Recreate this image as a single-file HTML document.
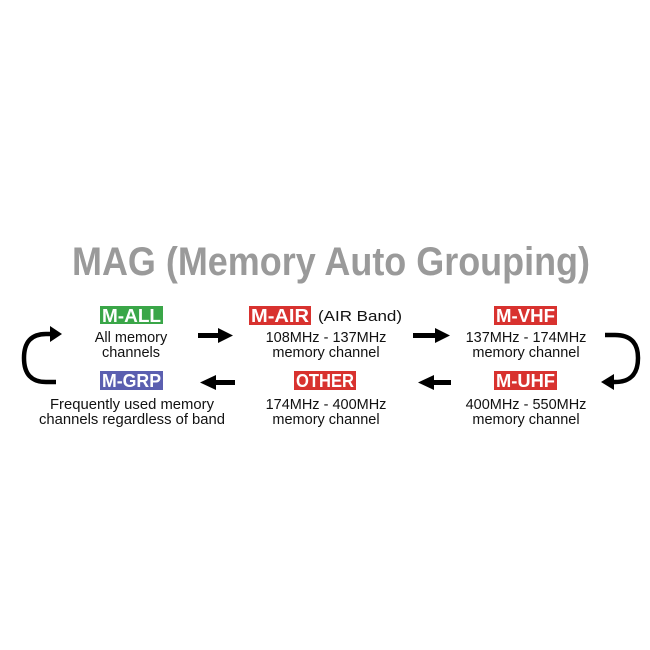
<!DOCTYPE html>
<html><head><meta charset="utf-8"><style>
body{margin:0;background:#fff;}
svg{display:block;}
.t{font-family:"Liberation Sans",sans-serif;font-size:14.5px;fill:#111;text-anchor:middle;}
.b{font-family:"Liberation Sans",sans-serif;font-size:18px;font-weight:bold;fill:#fff;text-anchor:middle;}
</style></head><body>
<svg width="650" height="650" viewBox="0 0 650 650">
<text x="331" y="275" font-family="Liberation Sans,sans-serif" font-size="40" font-weight="bold" fill="#9a9a9a" text-anchor="middle" textLength="518" lengthAdjust="spacingAndGlyphs">MAG (Memory Auto Grouping)</text>

<rect x="100" y="306" width="63" height="18" fill="#3aa648"/><text class="b" x="131.5" y="322" textLength="59" lengthAdjust="spacingAndGlyphs">M-ALL</text>
<rect x="249" y="306" width="62" height="19" fill="#d8322f"/><text class="b" x="280" y="322" textLength="58" lengthAdjust="spacingAndGlyphs">M-AIR</text>
<text class="t" x="360" y="321" font-size="15.5" textLength="84" lengthAdjust="spacingAndGlyphs">(AIR Band)</text>
<rect x="494" y="306" width="63" height="19" fill="#d8322f"/><text class="b" x="525.5" y="322" textLength="59" lengthAdjust="spacingAndGlyphs">M-VHF</text>
<rect x="100" y="371" width="63" height="19" fill="#5b5fb0"/><text class="b" x="131.5" y="387" textLength="59" lengthAdjust="spacingAndGlyphs">M-GRP</text>
<rect x="294" y="371" width="62" height="19" fill="#d8322f"/><text class="b" x="325" y="387" textLength="58" lengthAdjust="spacingAndGlyphs">OTHER</text>
<rect x="494" y="371" width="63" height="19" fill="#d8322f"/><text class="b" x="525.5" y="387" textLength="59" lengthAdjust="spacingAndGlyphs">M-UHF</text>

<text class="t" x="131" y="342">All memory</text>
<text class="t" x="131" y="357">channels</text>
<text class="t" x="326" y="342">108MHz - 137MHz</text>
<text class="t" x="326" y="357">memory channel</text>
<text class="t" x="526" y="342">137MHz - 174MHz</text>
<text class="t" x="526" y="357">memory channel</text>
<text class="t" x="132" y="409" textLength="164" lengthAdjust="spacingAndGlyphs">Frequently used memory</text>
<text class="t" x="132" y="424" textLength="186" lengthAdjust="spacingAndGlyphs">channels regardless of band</text>
<text class="t" x="326" y="409">174MHz - 400MHz</text>
<text class="t" x="326" y="424">memory channel</text>
<text class="t" x="526" y="409">400MHz - 550MHz</text>
<text class="t" x="526" y="424">memory channel</text>

<g fill="#000">
<rect x="198" y="333" width="22" height="5"/><polygon points="218,328 233,335.5 218,343"/>
<rect x="413" y="333" width="24" height="5"/><polygon points="435,328 450,335.5 435,343"/>
<rect x="214" y="380" width="21" height="5"/><polygon points="216,375 200,382.5 216,390"/>
<rect x="432" y="380" width="19" height="5"/><polygon points="434,375 418,382.5 434,390"/>
</g>
<path d="M56,382 L46,382 Q24,382 24,358 Q24,334 46,334 L52,334" fill="none" stroke="#000" stroke-width="4.5"/>
<polygon points="50,326 62,334 50,342" fill="#000"/>
<path d="M605,335 L615,335 Q638,335 638,358 Q638,382 615,382 L612,382" fill="none" stroke="#000" stroke-width="4.5"/>
<polygon points="614,374 601,382 614,390" fill="#000"/>
</svg>
</body></html>
